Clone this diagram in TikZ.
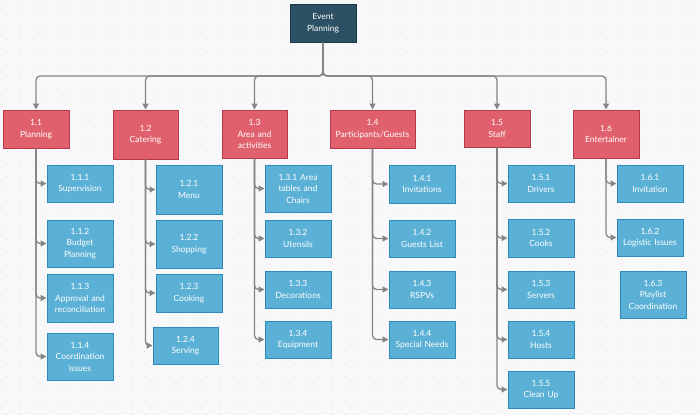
\documentclass[tikz,border=0pt]{standalone}
\usepackage{fontspec}
\setmainfont{Lato}
\usetikzlibrary{arrows.meta}
\definecolor{bg}{HTML}{F8F8FA}
\definecolor{dotc}{HTML}{D6D6DB}
\definecolor{rootfill}{HTML}{2D5164}
\definecolor{rootdraw}{HTML}{1C3947}
\definecolor{redfill}{HTML}{E0616D}
\definecolor{reddraw}{HTML}{B23A48}
\definecolor{bluefill}{HTML}{5BB0D6}
\definecolor{bluedraw}{HTML}{2B8BBA}
\definecolor{conncol}{HTML}{858585}
\begin{document}
\begin{tikzpicture}[x=1pt,y=-1pt,
  box/.style={rectangle, inner sep=0pt, align=center, text=white,
    font=\fontsize{8.5}{11.5}\selectfont, line width=1pt,
    minimum width=66pt, minimum height=37pt, text width=62pt},
  rootbox/.style={box, fill=rootfill, draw=rootdraw},
  redbox/.style={box, fill=redfill, draw=reddraw},
  bluebox/.style={box, fill=bluefill, draw=bluedraw},
  conn/.style={draw=conncol, line width=1.3pt, rounded corners=4pt,
    -{Triangle[length=6pt,width=6pt]}},
]
\useasboundingbox (0,0) rectangle (700,415);
\fill[bg] (0,0) rectangle (700,415);
\foreach \i in {0,...,55}{
  \foreach \j in {0,...,33}{
    \fill[dotc] ({7.3+12.5*\i},{1.7+12.5*\j}) circle (0.6pt);
  }
}

% root
\node[rootbox, minimum width=66pt, minimum height=38pt] (root) at (323,23) {Event\\Planning};
\coordinate (bus) at (0,76);

% level 1
\node[redbox, minimum height=38pt] (n1) at (36,129) {1.1\\Planning};
\node[redbox, minimum width=65pt, minimum height=49pt] (n2) at (145.5,134.5) {1.2\\Catering};
\node[redbox, minimum width=65pt, minimum height=48pt] (n3) at (254.5,134) {1.3\\Area and\\activities};
\node[redbox, minimum width=85pt, minimum height=38pt, text width=83pt] (n4) at (372.5,129) {1.4\\Participants/Guests};
\node[redbox, minimum height=37pt] (n5) at (497,128.5) {1.5\\Staff};
\node[redbox, minimum height=48pt] (n6) at (606,134) {1.6\\Entertainer};

\foreach \n in {n1,n2,n3,n4,n5,n6}{
  \draw[conn] (root.south) -- (root.south |- bus) -| (\n.north);
}

% 1.1 children
\node[bluebox] (n11) at (80,183.5) {1.1.1\\Supervision};
\node[bluebox, minimum height=47pt] (n12) at (80,243.5) {1.1.2\\Budget\\Planning};
\node[bluebox, minimum height=48pt] (n13) at (80,298) {1.1.3\\Approval and\\reconciliation};
\node[bluebox, minimum height=47pt] (n14) at (80,356.5) {1.1.4\\Coordination\\issues};

% 1.2 children
\node[bluebox, minimum height=49pt] (n21) at (189,189.5) {1.2.1\\Menu};
\node[bluebox, minimum height=48pt] (n22) at (189,244) {1.2.2\\Shopping};
\node[bluebox, minimum height=38pt] (n23) at (189,293) {1.2.3\\Cooking};
\node[bluebox, minimum width=65pt] (n24) at (185.5,345.5) {1.2.4\\Serving};

% 1.3 children
\node[bluebox, minimum height=47pt] (n31) at (298,188.5) {1.3.1 Area\\tables and\\Chairs};
\node[bluebox] (n32) at (298,238.5) {1.3.2\\Utensils};
\node[bluebox] (n33) at (298,289.5) {1.3.3\\Decorations};
\node[bluebox] (n34) at (298,339.5) {1.3.4\\Equipment};

% 1.4 children
\node[bluebox, minimum height=38pt] (n41) at (422,184) {1.4.1\\Invitations};
\node[bluebox] (n42) at (422,238.5) {1.4.2\\Guests List};
\node[bluebox] (n43) at (422,289.5) {1.4.3\\RSPVs};
\node[bluebox] (n44) at (422,339.5) {1.4.4\\Special Needs};

% 1.5 children
\node[bluebox] (n51) at (541,183.5) {1.5.1\\Drivers};
\node[bluebox, minimum height=38pt] (n52) at (541,238) {1.5.2\\Cooks};
\node[bluebox] (n53) at (541,289.5) {1.5.3\\Servers};
\node[bluebox] (n54) at (541,339.5) {1.5.4\\Hosts};
\node[bluebox] (n55) at (541,389.5) {1.5.5\\Clean Up};

% 1.6 children
\node[bluebox] (n61) at (650,183.5) {1.6.1\\Invitation};
\node[bluebox] (n62) at (650,237.5) {1.6.2\\Logistic Issues};
\node[bluebox, minimum height=47pt] (n63) at (653,294.5) {1.6.3\\Playlist\\Coordination};

% connectors to children
\foreach \c in {n11,n12,n13,n14}{\draw[conn] (n1.south) |- (\c.west);}
\foreach \c in {n21,n22,n23,n24}{\draw[conn] (n2.south) |- (\c.west);}
\foreach \c in {n31,n32,n33,n34}{\draw[conn] (n3.south) |- (\c.west);}
\foreach \c in {n41,n42,n43,n44}{\draw[conn] (n4.south) |- (\c.west);}
\foreach \c in {n51,n52,n53,n54,n55}{\draw[conn] (n5.south) |- (\c.west);}
\foreach \c in {n61,n62}{\draw[conn] (n6.south) |- (\c.west);}
\end{tikzpicture}
\end{document}
